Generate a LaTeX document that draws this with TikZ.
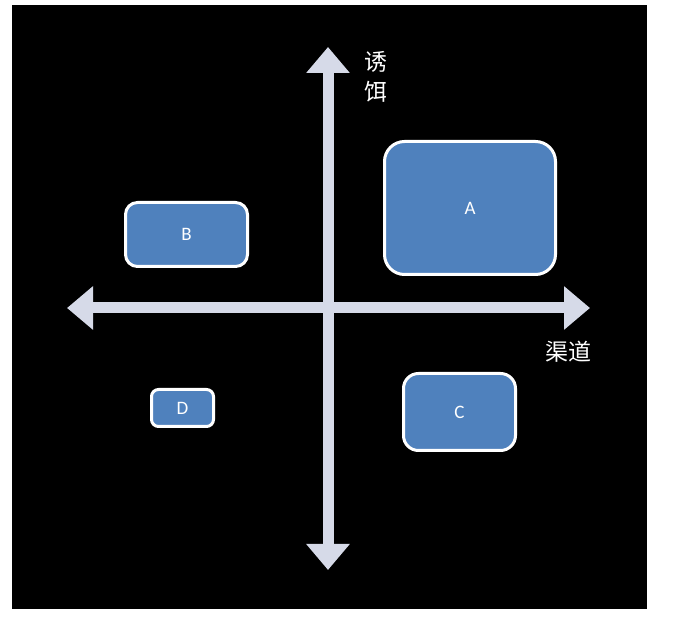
\documentclass[tikz,border=0pt]{standalone}
\usepackage{fontspec}
\setmainfont{Carlito}
\newfontfamily\cjk{Noto Sans CJK SC}
\usepackage{tikz}
\usetikzlibrary{arrows.meta,calc,positioning}
\definecolor{myblue}{RGB}{79,129,189}
\definecolor{myaxis}{RGB}{214,218,232}
\tikzset{
    myaxisline/.style={draw=myaxis,line width=11pt,
        {Triangle[width=42pt,length=26pt]}-{Triangle[width=42pt,length=26pt]}},
    mybox/.style={draw=white,line width=3pt,fill=myblue,text=white,
        inner sep=0pt,font=\fontsize{19}{22}\selectfont},
    mylabel/.style={text=white,align=center,inner sep=0pt,
        font=\cjk\fontsize{23}{30}\selectfont},
    every node/.style={font=\small}
}
\begin{document}
\begin{tikzpicture}[x=1pt,y=-1pt]
    % 背景
    \useasboundingbox (0,0) rectangle (673,617);
    \fill[black] (12,5) rectangle (647,609);

    % 坐标轴端点
    \coordinate (W) at (67,308);
    \coordinate (E) at (590,308);
    \coordinate (N) at (328,47);
    \coordinate (S) at (328,570);

    % 坐标轴
    \draw[myaxisline] (W)--(E);
    \draw[myaxisline] (S)--(N);

    % 轴标签
    \node[mylabel] (bait) at (376,77) {诱\\饵};
    \node[mylabel] (channel) at (568,352) {渠道};

    % 四个象限的方块
    \node[mybox,rounded corners=20pt,
        minimum width=171pt,minimum height=133pt
    ] (A) at (470,208) {A};

    \node[mybox,rounded corners=12pt,
        minimum width=122pt,minimum height=64pt
    ] (B) at (186.5,234.5) {B};

    \node[mybox,rounded corners=15pt,
        minimum width=112pt,minimum height=77pt
    ] (C) at (459.5,412) {C};

    \node[mybox,rounded corners=7pt,
        minimum width=62pt,minimum height=37pt
    ] (D) at (182.5,408) {D};
\end{tikzpicture}
\end{document}
